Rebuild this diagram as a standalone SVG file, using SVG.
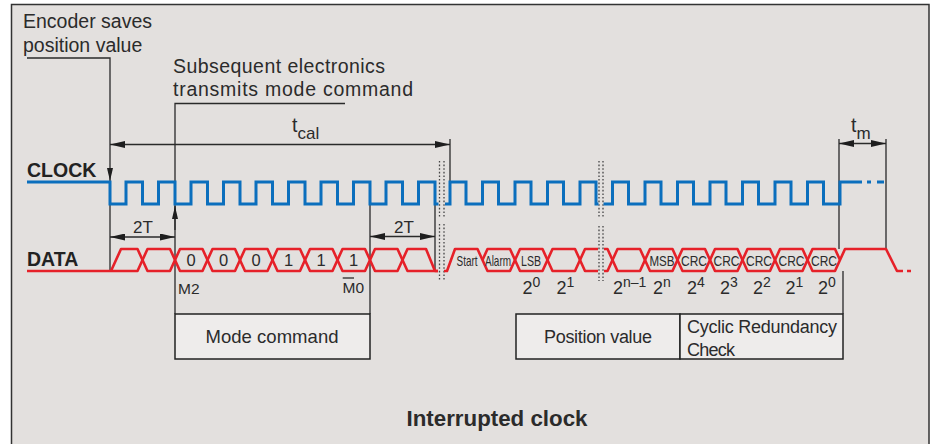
<svg xmlns="http://www.w3.org/2000/svg" width="936" height="444" viewBox="0 0 936 444">
<style>
text{font-family:"Liberation Sans",Arial,sans-serif;fill:#2b2b2b}
.lbl{font-size:19.5px}
.bold{font-weight:bold;font-size:19.5px;fill:#222}
.ln{stroke:#2a2a2a;stroke-width:1.3;fill:none}
.clk{stroke:#0b6fbd;stroke-width:3;fill:none;stroke-linejoin:miter;stroke-linecap:butt}
.dat{stroke:#e62129;stroke-width:2.6;fill:none;stroke-linejoin:round}
.dot{stroke:#444;stroke-width:1.3;stroke-dasharray:1.6 2;fill:none}
.box{fill:#eeeceb;stroke:#222;stroke-width:1.5}
.cell{font-size:16.5px;text-anchor:middle}
.sm{font-size:14.5px;text-anchor:middle}
.exp{font-size:18px}
.sup{font-size:14px}
</style>
<defs>
<marker id="a" viewBox="0 0 15 7" refX="15" refY="3.5" markerWidth="15" markerHeight="7" markerUnits="userSpaceOnUse" orient="auto-start-reverse"><path d="M0,0L15,3.5L0,7z" fill="#1e1e1e"/></marker>
<marker id="b" viewBox="0 0 13 6" refX="13" refY="3" markerWidth="13" markerHeight="6" markerUnits="userSpaceOnUse" orient="auto"><path d="M0,0L13,3L0,6z" fill="#1e1e1e"/></marker>
</defs>
<rect width="936" height="444" fill="#ffffff"/>
<rect id="frame" x="11.5" y="4.5" width="917.5" height="460" fill="#e3e0de" stroke="#333" stroke-width="1.5"/>

<g id="annotations">
<text class="lbl" x="23" y="28" font-size="20">Encoder saves</text>
<text class="lbl" x="23" y="51.5" font-size="20">position value</text>
<text class="lbl" x="173" y="72.5" textLength="212">Subsequent electronics</text>
<text class="lbl" x="173" y="95.5" textLength="240">transmits mode command</text>
<text class="lbl" x="292" y="132">t<tspan font-size="17" dy="6.5">cal</tspan></text>
<text class="lbl" x="851" y="132">t<tspan font-size="17" dy="6.5">m</tspan></text>
<text x="143" y="233" font-size="17" text-anchor="middle">2T</text>
<text x="404" y="233" font-size="17" text-anchor="middle">2T</text>
</g>

<g id="connectors">
<path class="ln" d="M27,58H110V181" marker-end="url(#b)"/>
<path class="ln" d="M110,204V271"/>
<path class="ln" d="M345,103.5H175V314"/>
<path class="ln" d="M175,230V206" marker-end="url(#b)"/>
<path class="ln" d="M110,144.5H450" marker-start="url(#a)" marker-end="url(#a)"/>
<path class="ln" d="M450,139V182"/>
<path class="ln" d="M110,237H175" marker-start="url(#a)" marker-end="url(#a)"/>
<path class="ln" d="M370,236.5H435" marker-start="url(#a)" marker-end="url(#a)"/>
<path class="ln" d="M370,204V314M435,204V271"/>
<path class="ln" d="M839,143.5H886" marker-start="url(#a)" marker-end="url(#a)"/>
<path class="ln" d="M839,139V249M886,139V249M843,271V314"/>
<path class="dot" d="M439.5,161V217M444,161V217M439.5,224V280M444,224V280M599,161V218M603,161V218M599,226V281M603,226V281"/>
</g>

<g id="clock">
<text class="bold" x="27" y="177">CLOCK</text>
<path class="clk" d="M27,182H110V204H126V182H142.5V204H158.5V182H175V204H191V182H207.5V204H223.5V182H240V204H256V182H272.5V204H288.5V182H305V204H321V182H337.5V204H353.5V182H370V204H386V182H402.5V204H418.5V182H435V204H438.5"/>
<path class="clk" d="M445,204H450V182H466V204H482.5V182H498.5V204H515V182H531V204H547.5V182H563.5V204H580V182H596V204H598.5"/>
<path class="clk" d="M603.5,204H612.5V182H628.5V204H645V182H661V204H677.5V182H693.5V204H710V182H726V204H742.5V182H758.5V204H775V182H791V204H807.5V182H823.5V204H840V182H862M867,182H871M877,182H884"/>
</g>

<g id="data">
<text class="bold" x="27" y="266">DATA</text>
<path class="dat" d="M111,271L121,249H137.5L147.5,271H170L180,249H202.5L212.5,271H235L245,249H267.5L277.5,271H300L310,249H332.5L342.5,271H365L375,249H397.5L407.5,271H438"/>
<path class="dat" d="M27,271H137.5L147.5,249H170L180,271H202.5L212.5,249H235L245,271H267.5L277.5,249H300L310,271H332.5L342.5,249H365L375,271H397.5L407.5,249H426L435,271H438"/>
<path class="dat" d="M444,271H447L455,249H477.5L487.5,271H510L520,249H542.5L552.5,271H575L585,249H598"/>
<path class="dat" d="M482.5,260L487.5,249H510L520,271H542.5L552.5,249H575L585,271H598"/>
<path class="dat" d="M604,249H607.5L617.5,271H640L650,249H672.5L682.5,271H705L715,249H737.5L747.5,271H770L780,249H802.5L812.5,271H835L845,249H886L897,271H903M907,271H911"/>
<path class="dat" d="M604,271H607.5L617.5,249H640L650,271H672.5L682.5,249H705L715,271H737.5L747.5,249H770L780,271H802.5L812.5,249H835L840,260"/>
<text class="cell" x="191" y="266">0</text>
<text class="cell" x="223.5" y="266">0</text>
<text class="cell" x="256" y="266">0</text>
<text class="cell" x="288.5" y="266">1</text>
<text class="cell" x="321" y="266">1</text>
<text class="cell" x="353.5" y="266">1</text>
<text class="sm" x="467" y="265.5" textLength="21" lengthAdjust="spacingAndGlyphs">Start</text>
<text class="sm" x="498" y="265.5" textLength="26" lengthAdjust="spacingAndGlyphs">Alarm</text>
<text class="sm" x="531" y="266" textLength="20" lengthAdjust="spacingAndGlyphs">LSB</text>
<text class="sm" x="662" y="266" textLength="25" lengthAdjust="spacingAndGlyphs">MSB</text>
<text class="sm" x="694" y="266" textLength="26" lengthAdjust="spacingAndGlyphs">CRC</text>
<text class="sm" x="726.5" y="266" textLength="26" lengthAdjust="spacingAndGlyphs">CRC</text>
<text class="sm" x="759" y="266" textLength="26" lengthAdjust="spacingAndGlyphs">CRC</text>
<text class="sm" x="791.5" y="266" textLength="26" lengthAdjust="spacingAndGlyphs">CRC</text>
<text class="sm" x="824" y="266" textLength="26" lengthAdjust="spacingAndGlyphs">CRC</text>
<text x="178" y="293.5" font-size="15.5">M2</text>
<text x="342.5" y="292.5" font-size="15.5">M0</text>
<path class="ln" d="M342.7,278H354"/>
<text class="exp" x="522.5" y="294">2<tspan class="sup" dy="-7.5">0</tspan></text>
<text class="exp" x="556.5" y="294">2<tspan class="sup" dy="-7.5">1</tspan></text>
<text class="exp" x="613" y="294">2<tspan class="sup" dy="-7.5">n–1</tspan></text>
<text class="exp" x="653" y="294">2<tspan class="sup" dy="-7.5">n</tspan></text>
<text class="exp" x="687" y="294">2<tspan class="sup" dy="-7.5">4</tspan></text>
<text class="exp" x="720" y="294">2<tspan class="sup" dy="-7.5">3</tspan></text>
<text class="exp" x="753" y="294">2<tspan class="sup" dy="-7.5">2</tspan></text>
<text class="exp" x="785.5" y="294">2<tspan class="sup" dy="-7.5">1</tspan></text>
<text class="exp" x="818" y="294">2<tspan class="sup" dy="-7.5">0</tspan></text>
</g>

<g id="mode-command">
<rect class="box" x="175" y="314" width="195" height="45"/>
<text x="205.5" y="343" font-size="18.5" textLength="133">Mode command</text>
</g>
<g id="position-value">
<rect class="box" x="516" y="314" width="164" height="45"/>
<text x="598" y="343" font-size="18" text-anchor="middle" textLength="108">Position value</text>
</g>
<g id="crc">
<rect class="box" x="680" y="314" width="163" height="45"/>
<text x="687" y="333" font-size="18" textLength="150">Cyclic Redundancy</text>
<text x="687" y="356" font-size="18" textLength="48">Check</text>
</g>
<g id="title">
<text x="497" y="426" font-size="22" font-weight="bold" text-anchor="middle" textLength="181" lengthAdjust="spacingAndGlyphs" fill="#222">Interrupted clock</text>
</g>
</svg>
